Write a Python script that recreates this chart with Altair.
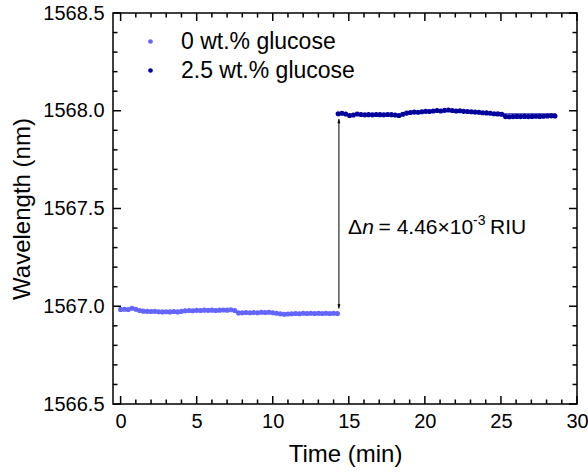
import altair as alt
import pandas as pd

# ---------------- data ----------------
series_names = ["0 wt.% glucose", "2.5 wt.% glucose"]
series_colors = ["#6464FF", "#00009C"]

# 0 wt.% glucose (time in min, wavelength in nm)
t_low = [round(i * 0.25, 2) for i in range(58)]
v_low = [1566.984, 1566.985, 1566.983, 1566.990, 1566.985, 1566.978, 1566.975, 1566.974,
         1566.973, 1566.974, 1566.972, 1566.971, 1566.972, 1566.971, 1566.973, 1566.971,
         1566.974, 1566.977, 1566.978, 1566.977, 1566.979, 1566.978, 1566.980, 1566.979,
         1566.980, 1566.978, 1566.980, 1566.981, 1566.980, 1566.982, 1566.978, 1566.966,
         1566.967, 1566.968, 1566.967, 1566.968, 1566.967, 1566.969, 1566.968, 1566.969,
         1566.967, 1566.964, 1566.961, 1566.959, 1566.960, 1566.962, 1566.963, 1566.962,
         1566.964, 1566.963, 1566.964, 1566.963, 1566.964, 1566.963, 1566.964, 1566.963,
         1566.964, 1566.963]

# 2.5 wt.% glucose
t_high = [round(14.3 + i * 0.25, 2) for i in range(58)]
v_high = [1567.985, 1567.987, 1567.983, 1567.976, 1567.978, 1567.983, 1567.981, 1567.979,
          1567.980, 1567.979, 1567.981, 1567.980, 1567.979, 1567.981, 1567.980, 1567.978,
          1567.976, 1567.982, 1567.988, 1567.991, 1567.993, 1567.992, 1567.995, 1567.997,
          1567.996, 1567.999, 1568.001, 1567.999, 1568.002, 1568.004, 1568.001, 1567.999,
          1568.000, 1567.997, 1567.996, 1567.995, 1567.993, 1567.992, 1567.990, 1567.989,
          1567.987, 1567.985, 1567.984, 1567.982, 1567.970, 1567.969, 1567.970, 1567.971,
          1567.970, 1567.971, 1567.970, 1567.971, 1567.972, 1567.971, 1567.972, 1567.973,
          1567.974, 1567.973]

# thin reference line in the 2.5 wt.% region
ref_t = [25.2, 28.6]
ref_v = [1567.984, 1567.984]

# arrow annotation
arrow_x = [14.35]
arrow_y = [1566.988, 1567.958]
ann_x = [14.95]
ann_y = [1567.372]

# axes
x_domain = [-0.5, 30]
y_domain = [1566.5, 1568.5]
x_major = [0, 5, 10, 15, 20, 25, 30]
x_minor = [i for i in range(0, 31) if i % 5 != 0]
y_major = [1566.5, 1567.0, 1567.5, 1568.0, 1568.5]
y_minor = [round(1566.5 + 0.1 * i, 1) for i in range(21) if i % 5 != 0]

W, H = 464, 391
FONT = "Liberation Sans"

df = pd.DataFrame({
    "t": t_low + t_high,
    "v": v_low + v_high,
    "series": [series_names[0]] * len(t_low) + [series_names[1]] * len(t_high),
})

xs = alt.Scale(domain=x_domain, nice=False, zero=False)
ys = alt.Scale(domain=y_domain, nice=False, zero=False)

points = alt.Chart(df).mark_circle(size=26, opacity=1).encode(
    x=alt.X("t:Q", scale=xs, axis=alt.Axis(
        values=x_major, format="d", title="Time (min)", ticks=False, domain=False, grid=False,
        labelFontSize=20, labelPadding=7, labelFlush=False, labelOverlap=False,
        titleFontSize=24, titleFontWeight="normal", titlePadding=11,
        labelColor="black", titleColor="black", labelFont=FONT, titleFont=FONT)),
    y=alt.Y("v:Q", scale=ys, axis=alt.Axis(
        values=y_major, format=".1f", title="Wavelength (nm)", ticks=False, domain=False, grid=False,
        labelFontSize=20, labelPadding=9, labelOverlap=False,
        titleFontSize=24, titleFontWeight="normal", titlePadding=8,
        labelColor="black", titleColor="black", labelFont=FONT, titleFont=FONT)),
    color=alt.Color("series:N", scale=alt.Scale(domain=series_names, range=series_colors),
                    legend=alt.Legend(title=None, orient="none", legendX=26, legendY=17,
                                      labelFontSize=23, labelFont=FONT, labelColor="black",
                                      labelLimit=0,
                                      symbolType="circle", symbolSize=22, symbolStrokeWidth=0,
                                      labelOffset=19, rowPadding=5, padding=0)),
)

X = lambda f: alt.X(f, scale=xs)
Y = lambda f: alt.Y(f, scale=ys)

ref_line = alt.Chart(pd.DataFrame({"t": ref_t, "v": ref_v})).mark_line(
    color=series_colors[1], strokeWidth=1).encode(x=X("t:Q"), y=Y("v:Q"))

arrow_rule = alt.Chart(pd.DataFrame({"t": arrow_x, "v": [arrow_y[0]], "v2": [arrow_y[1]]})).mark_rule(
    color="black", strokeWidth=1).encode(x=X("t:Q"), y=Y("v:Q"), y2="v2:Q")
head_up = alt.Chart(pd.DataFrame({"t": arrow_x, "v": [arrow_y[1]]})).mark_point(
    shape="M0,0L-0.75,2.2L0.75,2.2Z", filled=True, color="black", size=16, opacity=1).encode(
    x=X("t:Q"), y=Y("v:Q"))
head_down = alt.Chart(pd.DataFrame({"t": arrow_x, "v": [arrow_y[0]]})).mark_point(
    shape="M0,0L-0.75,-2.2L0.75,-2.2Z", filled=True, color="black", size=16, opacity=1).encode(
    x=X("t:Q"), y=Y("v:Q"))

ann_df = pd.DataFrame({"t": ann_x, "v": ann_y})
def ann_text(txt, dx, size=21, italic=False, dy=0):
    return alt.Chart(ann_df).mark_text(
        text=txt, align="left", baseline="alphabetic", dx=dx, dy=dy, fontSize=size,
        font=FONT, fontStyle="italic" if italic else "normal", color="black").encode(
        x=X("t:Q"), y=Y("v:Q"))

ann = [
    ann_text("Δ", 0),
    ann_text("n", 14.2, italic=True),
    ann_text("= 4.46×10", 30.5),
    ann_text("-3", 125, size=14, dy=-8.5),
    ann_text("RIU", 142),
]

def xticks(vals, length, top):
    d = pd.DataFrame({"t": vals})
    y0, y1 = (0, length) if top else (H, H - length)
    return alt.Chart(d).mark_rule(color="black", strokeWidth=1.5).encode(
        x=X("t:Q"), y=alt.value(y0), y2=alt.value(y1))

def yticks(vals, length, right):
    d = pd.DataFrame({"v": vals})
    x0, x1 = (W, W - length) if right else (0, length)
    return alt.Chart(d).mark_rule(color="black", strokeWidth=1.5).encode(
        y=Y("v:Q"), x=alt.value(x0), x2=alt.value(x1))

ticks = [
    xticks(x_major, 8, False), xticks(x_minor, 4.5, False),
    xticks(x_major, 8, True), xticks(x_minor, 4.5, True),
    yticks(y_major, 8, False), yticks(y_minor, 4.5, False),
    yticks(y_major, 8, True), yticks(y_minor, 4.5, True),
]

chart = alt.layer(points, ref_line, arrow_rule, head_up, head_down, *ann, *ticks).properties(
    width=W, height=H,
    autosize=alt.AutoSizeParams(type="none"),
    padding={"left": 113, "top": 13, "right": 11, "bottom": 70},
    background="white",
).configure_view(stroke="black", strokeWidth=1.5)

chart.save("out.html", embed_options={"renderer": "svg", "actions": False})
